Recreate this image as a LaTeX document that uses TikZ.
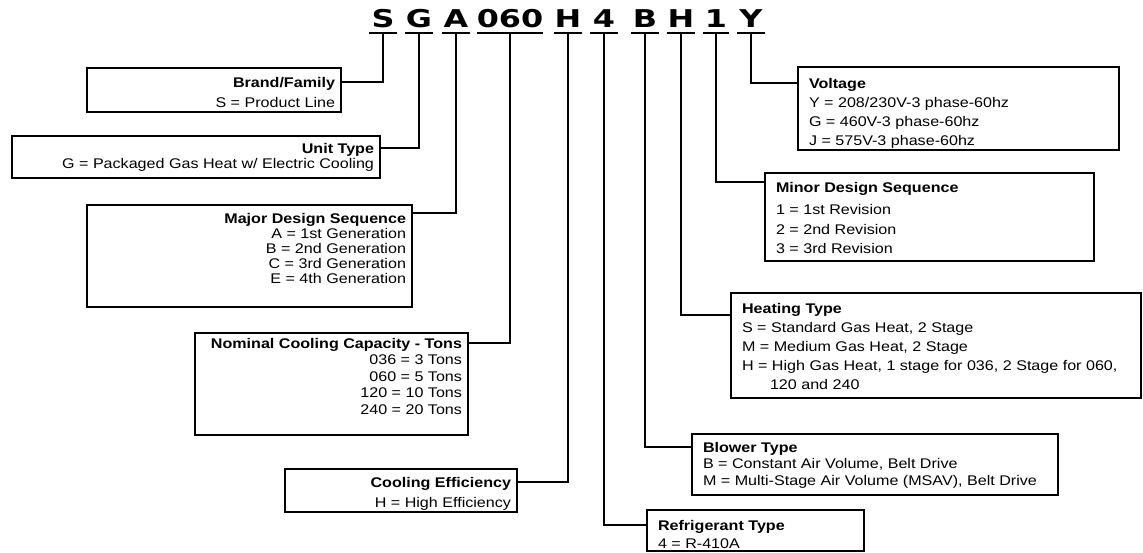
\documentclass[tikz,border=0pt]{standalone}
\usepackage{fontspec}
\setmainfont{Liberation Sans}[FakeStretch=1.15]
\newfontfamily\codefont{DejaVu Sans}[FakeStretch=1.3]

\tikzset{
  codeletter/.style={font=\codefont\bfseries\fontsize{24.5}{24.5}\selectfont,
    anchor=south, inner xsep=0pt, inner ysep=5pt, text depth=0pt, minimum width=28pt},
  underbar/.style={line width=2pt},
  lead/.style={line width=1.8pt},
  field/.style={draw, line width=1.3pt, anchor=north west, inner xsep=6pt,
    inner ysep=0pt, outer sep=0pt, font=\fontsize{14}{15}\selectfont},
  rfield/.style={field, inner xsep=11pt},
}

% width, height, first baseline, set-up, lines
\newcommand{\fieldtext}[5]{%
  \begin{minipage}[t][#2][t]{#1}#4\rule{0pt}{#3}\ignorespaces#5\end{minipage}}

\begin{document}
\begin{tikzpicture}[x=1pt, y=-1pt]
  \useasboundingbox (0,0) rectangle (1143,552);

  % the model number, one letter group per field
  \node[codeletter] (cS) at (383,33) {S};
  \node[codeletter] (cG) at (419,33) {G};
  \node[codeletter] (cA) at (456,33) {A};
  \node[codeletter, minimum width=66pt] (cCap) at (510,33) {060};
  \node[codeletter] (cEff) at (568,33) {H};
  \node[codeletter] (cRef) at (604,33) {4};
  \node[codeletter] (cB) at (645,33) {B};
  \node[codeletter] (cHeat) at (681,33) {H};
  \node[codeletter, minimum width=25pt] (cMin) at (716,33) {1};
  \node[codeletter] (cY) at (751,33) {Y};
  \foreach \c in {cS,cG,cA,cCap,cEff,cRef,cB,cHeat,cMin,cY}
    \draw[underbar] (\c.south west) -- (\c.south east);

  % fields on the left, text set flush right
  \node[field] (brand) at (87,68)
    {\fieldtext{242pt}{44pt}{19pt}{\raggedleft\fontsize{14}{20}\selectfont}
      {\textbf{Brand/Family}\\S = Product Line}};
  \node[field] (unit) at (12,136)
    {\fieldtext{356pt}{42pt}{17pt}{\raggedleft\fontsize{14}{15}\selectfont}
      {\textbf{Unit Type}\\G = Packaged Gas Heat w/ Electric Cooling}};
  \node[field] (major) at (87,205)
    {\fieldtext{313pt}{102pt}{18pt}{\raggedleft\fontsize{14}{15}\selectfont}
      {\textbf{Major Design Sequence}\\A = 1st Generation\\B = 2nd Generation\\
       C = 3rd Generation\\E = 4th Generation}};
  \node[field] (cap) at (195,333)
    {\fieldtext{261pt}{102pt}{15pt}{\raggedleft\fontsize{14}{16.5}\selectfont}
      {\textbf{Nominal Cooling Capacity - Tons}\\036 = 3 Tons\\060 = 5 Tons\\
       120 = 10 Tons\\240 = 20 Tons}};
  \node[field] (eff) at (285,469)
    {\fieldtext{220pt}{43pt}{18pt}{\raggedleft\fontsize{14}{20}\selectfont}
      {\textbf{Cooling Efficiency}\\H = High Efficiency}};

  % fields on the right, text set flush left
  \node[rfield] (volt) at (798,67)
    {\fieldtext{299pt}{83pt}{21pt}{\raggedright\fontsize{14}{19}\selectfont}
      {\textbf{Voltage}\\Y = 208/230V-3 phase-60hz\\G = 460V-3 phase-60hz\\
       J = 575V-3 phase-60hz}};
  \node[rfield] (minor) at (765,173)
    {\fieldtext{307pt}{88pt}{19pt}{\raggedright\fontsize{14}{19.5}\selectfont}
      {\textbf{Minor Design Sequence}\\[3pt]1 = 1st Revision\\2 = 2nd Revision\\
       3 = 3rd Revision}};
  \node[rfield] (heat) at (731,293)
    {\fieldtext{388pt}{105pt}{20pt}{\raggedright\fontsize{14}{19}\selectfont}
      {\textbf{Heating Type}\\S = Standard Gas Heat, 2 Stage\\M = Medium Gas Heat, 2 Stage\\
       H = High Gas Heat, 1 stage for 036, 2 Stage for 060,\\\hspace*{28pt}120 and 240}};
  \node[rfield] (blow) at (692,434)
    {\fieldtext{344pt}{61pt}{18pt}{\raggedright\fontsize{14}{16.5}\selectfont}
      {\textbf{Blower Type}\\B = Constant Air Volume, Belt Drive\\
       M = Multi-Stage Air Volume (MSAV), Belt Drive}};
  \node[rfield] (refr) at (647,510)
    {\fieldtext{195pt}{41pt}{20pt}{\raggedright\fontsize{14}{18}\selectfont}
      {\textbf{Refrigerant Type}\\4 = R-410A}};

  % leaders from each letter group down to its field
  \draw[lead] (cS.south) |- ([yshift=-14pt]brand.north east);
  \draw[lead] (cG.south) |- ([yshift=-12pt]unit.north east);
  \draw[lead] (cA.south) |- ([yshift=-8pt]major.north east);
  \draw[lead] (cCap.south) |- ([yshift=-10pt]cap.north east);
  \draw[lead] (cEff.south) |- ([yshift=-13pt]eff.north east);
  \draw[lead] (cRef.south) |- ([yshift=-15pt]refr.north west);
  \draw[lead] (cB.south) |- ([yshift=-13pt]blow.north west);
  \draw[lead] (cHeat.south) |- ([yshift=-22pt]heat.north west);
  \draw[lead] (cMin.south) |- ([yshift=-9pt]minor.north west);
  \draw[lead] (cY.south) |- ([yshift=-16pt]volt.north west);

\end{tikzpicture}
\end{document}
